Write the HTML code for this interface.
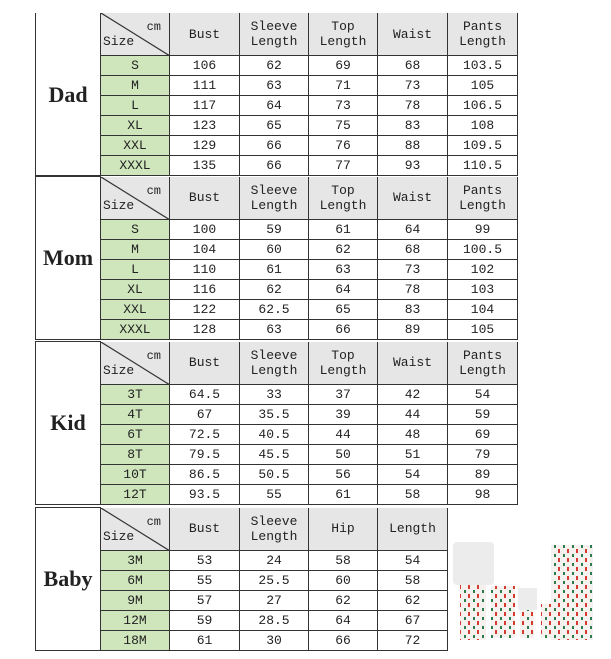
<!DOCTYPE html>
<html><head><meta charset="utf-8"><style>
body{margin:0;background:#fff;width:611px;height:659px;position:relative;overflow:hidden;font-family:"Liberation Mono",monospace;font-size:13px;color:#222}
table{position:absolute;left:35px;border-collapse:collapse;table-layout:fixed}
td{border:1.5px solid #333;text-align:center;padding:0;line-height:15px;white-space:nowrap;overflow:hidden}
tr.h td{background:#e6e6e6;height:42px;border-top:none}
tr.r td{height:19px}
td.s{background:#cfe6bc}
tr.h td.lab{background:#fff}
td.lab{background:#fff;font-family:"Liberation Serif",serif;font-size:22px;font-weight:bold;border-left:1.5px solid #333}
td.d{position:relative;background:#e6e6e6;text-align:left}
td.d svg{position:absolute;left:0;top:0}
td.d .cm{position:absolute;right:8px;top:7px;font-size:12px}
td.d .sz{position:absolute;left:2px;bottom:6px}
</style></head><body>

<table style="top:13px;width:482px">
<colgroup><col style="width:65px"><col style="width:69px"><col style="width:70px"><col style="width:69px"><col style="width:69px"><col style="width:70px"><col style="width:70px"></colgroup>
<tr class="h"><td class="lab" rowspan="7">Dad</td><td class="d"><svg width="69" height="43"><line x1="0" y1="0" x2="69" y2="43" stroke="#333" stroke-width="1.2"/></svg><span class="cm">cm</span><span class="sz">Size</span></td><td>Bust</td><td>Sleeve<br>Length</td><td>Top<br>Length</td><td>Waist</td><td>Pants<br>Length</td></tr>
<tr class="r"><td class="s">S</td><td>106</td><td>62</td><td>69</td><td>68</td><td>103.5</td></tr>
<tr class="r"><td class="s">M</td><td>111</td><td>63</td><td>71</td><td>73</td><td>105</td></tr>
<tr class="r"><td class="s">L</td><td>117</td><td>64</td><td>73</td><td>78</td><td>106.5</td></tr>
<tr class="r"><td class="s">XL</td><td>123</td><td>65</td><td>75</td><td>83</td><td>108</td></tr>
<tr class="r"><td class="s">XXL</td><td>129</td><td>66</td><td>76</td><td>88</td><td>109.5</td></tr>
<tr class="r"><td class="s">XXXL</td><td>135</td><td>66</td><td>77</td><td>93</td><td>110.5</td></tr>
</table>

<table style="top:176px;width:482px">
<colgroup><col style="width:65px"><col style="width:69px"><col style="width:70px"><col style="width:69px"><col style="width:69px"><col style="width:70px"><col style="width:70px"></colgroup>
<tr class="h"><td class="lab" rowspan="7" style="border-top:1.5px solid #333">Mom</td><td class="d"><svg width="69" height="43"><line x1="0" y1="0" x2="69" y2="43" stroke="#333" stroke-width="1.2"/></svg><span class="cm">cm</span><span class="sz">Size</span></td><td>Bust</td><td>Sleeve<br>Length</td><td>Top<br>Length</td><td>Waist</td><td>Pants<br>Length</td></tr>
<tr class="r"><td class="s">S</td><td>100</td><td>59</td><td>61</td><td>64</td><td>99</td></tr>
<tr class="r"><td class="s">M</td><td>104</td><td>60</td><td>62</td><td>68</td><td>100.5</td></tr>
<tr class="r"><td class="s">L</td><td>110</td><td>61</td><td>63</td><td>73</td><td>102</td></tr>
<tr class="r"><td class="s">XL</td><td>116</td><td>62</td><td>64</td><td>78</td><td>103</td></tr>
<tr class="r"><td class="s">XXL</td><td>122</td><td>62.5</td><td>65</td><td>83</td><td>104</td></tr>
<tr class="r"><td class="s">XXXL</td><td>128</td><td>63</td><td>66</td><td>89</td><td>105</td></tr>
</table>

<table style="top:341px;width:482px">
<colgroup><col style="width:65px"><col style="width:69px"><col style="width:70px"><col style="width:69px"><col style="width:69px"><col style="width:70px"><col style="width:70px"></colgroup>
<tr class="h"><td class="lab" rowspan="7" style="border-top:1.5px solid #333">Kid</td><td class="d"><svg width="69" height="43"><line x1="0" y1="0" x2="69" y2="43" stroke="#333" stroke-width="1.2"/></svg><span class="cm">cm</span><span class="sz">Size</span></td><td>Bust</td><td>Sleeve<br>Length</td><td>Top<br>Length</td><td>Waist</td><td>Pants<br>Length</td></tr>
<tr class="r"><td class="s">3T</td><td>64.5</td><td>33</td><td>37</td><td>42</td><td>54</td></tr>
<tr class="r"><td class="s">4T</td><td>67</td><td>35.5</td><td>39</td><td>44</td><td>59</td></tr>
<tr class="r"><td class="s">6T</td><td>72.5</td><td>40.5</td><td>44</td><td>48</td><td>69</td></tr>
<tr class="r"><td class="s">8T</td><td>79.5</td><td>45.5</td><td>50</td><td>51</td><td>79</td></tr>
<tr class="r"><td class="s">10T</td><td>86.5</td><td>50.5</td><td>56</td><td>54</td><td>89</td></tr>
<tr class="r"><td class="s">12T</td><td>93.5</td><td>55</td><td>61</td><td>58</td><td>98</td></tr>
</table>

<table style="top:507px;width:412px">
<colgroup><col style="width:65px"><col style="width:69px"><col style="width:70px"><col style="width:69px"><col style="width:69px"><col style="width:70px"></colgroup>
<tr class="h"><td class="lab" rowspan="6" style="border-top:1.5px solid #333">Baby</td><td class="d"><svg width="69" height="43"><line x1="0" y1="0" x2="69" y2="43" stroke="#333" stroke-width="1.2"/></svg><span class="cm">cm</span><span class="sz">Size</span></td><td>Bust</td><td>Sleeve<br>Length</td><td>Hip</td><td>Length</td></tr>
<tr class="r"><td class="s">3M</td><td>53</td><td>24</td><td>58</td><td>54</td></tr>
<tr class="r"><td class="s">6M</td><td>55</td><td>25.5</td><td>60</td><td>58</td></tr>
<tr class="r"><td class="s">9M</td><td>57</td><td>27</td><td>62</td><td>62</td></tr>
<tr class="r"><td class="s">12M</td><td>59</td><td>28.5</td><td>64</td><td>67</td></tr>
<tr class="r"><td class="s">18M</td><td>61</td><td>30</td><td>66</td><td>72</td></tr>
</table>

<svg style="position:absolute;left:0;top:0" width="611" height="659">
<defs><pattern id="p" width="9" height="9" patternUnits="userSpaceOnUse">
<rect width="9" height="9" fill="#f4f1ee"/><rect x="0" y="0" width="2" height="4" fill="#d43a2e"/><rect x="5" y="5" width="2" height="3" fill="#2d7a4a"/></pattern></defs>
<rect x="453" y="542" width="41" height="43" rx="4" fill="#ececec"/>
<rect x="460" y="585" width="26" height="55" fill="url(#p)"/>
<rect x="491" y="586" width="24" height="52" fill="url(#p)"/>
<rect x="518" y="588" width="19" height="22" fill="#ececec"/>
<rect x="520" y="610" width="14" height="28" fill="url(#p)"/>
<rect x="541" y="604" width="15" height="34" fill="url(#p)"/>
<rect x="551" y="545" width="42" height="95" fill="url(#p)"/>
</svg>
</body></html>
